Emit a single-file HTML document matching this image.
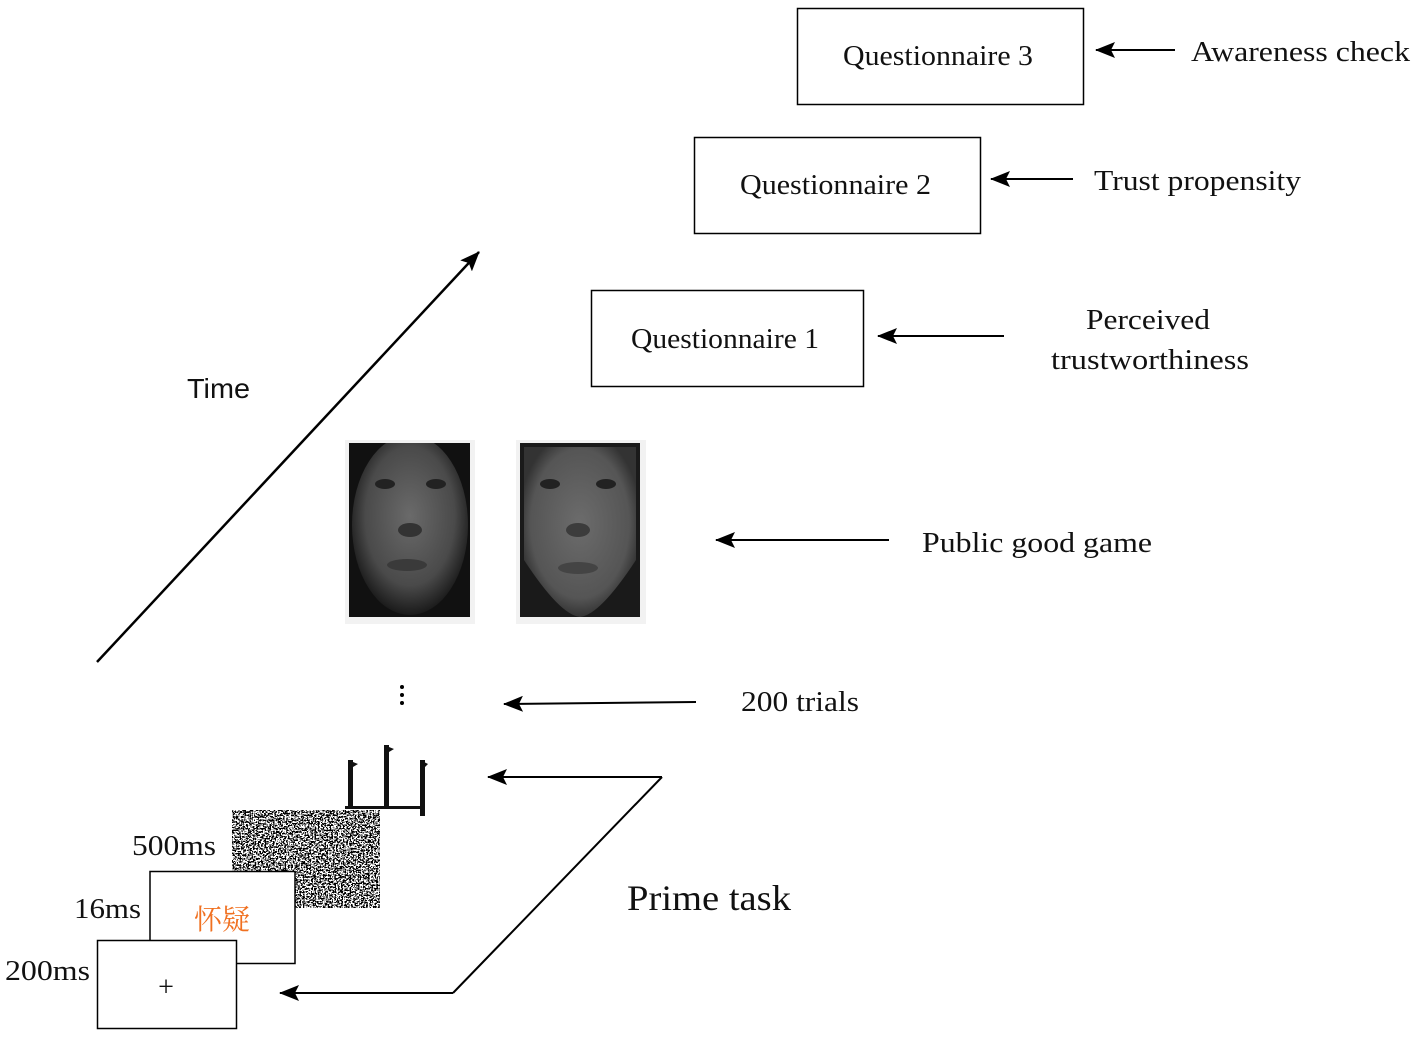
<!DOCTYPE html>
<html><head><meta charset="utf-8"><style>
body{margin:0;background:#fff}
svg text{font-family:"Liberation Serif","Noto Serif CJK SC",serif;fill:#111}
</style></head><body>
<svg width="1417" height="1036" viewBox="0 0 1417 1036" xmlns="http://www.w3.org/2000/svg">
<defs>
<marker id="ah2" markerWidth="20" markerHeight="16" refX="19" refY="8" orient="auto" markerUnits="userSpaceOnUse">
<path d="M20,8 L0,0 L4,8 L0,16 Z" fill="#000"/></marker>
<filter id="noise" x="0" y="0" width="100%" height="100%">
<feTurbulence type="fractalNoise" baseFrequency="0.6" numOctaves="2" seed="3"/>
<feColorMatrix type="saturate" values="0"/>
<feComponentTransfer><feFuncR type="discrete" tableValues="0 1"/><feFuncG type="discrete" tableValues="0 1"/><feFuncB type="discrete" tableValues="0 1"/><feFuncA type="linear" slope="0" intercept="1"/></feComponentTransfer>
</filter>
<radialGradient id="f1" cx="50%" cy="45%" r="55%"><stop offset="0" stop-color="#6a6a6a"/><stop offset="0.7" stop-color="#4a4a4a"/><stop offset="1" stop-color="#1a1a1a"/></radialGradient>
<radialGradient id="f2" cx="50%" cy="45%" r="55%"><stop offset="0" stop-color="#6c6c6c"/><stop offset="0.8" stop-color="#555"/><stop offset="1" stop-color="#333"/></radialGradient>
<clipPath id="c1"><rect x="349" y="443" width="121" height="174"/></clipPath>
</defs>

<rect x="797.5" y="8.5" width="286" height="96" fill="none" stroke="#000" stroke-width="1.5"/>
<text x="843" y="65" font-size="28" textLength="190" lengthAdjust="spacingAndGlyphs">Questionnaire 3</text>
<line x1="1175" y1="50" x2="1096" y2="50" stroke="#000" stroke-width="2" marker-end="url(#ah2)"/>
<text x="1191" y="61" font-size="29" textLength="219" lengthAdjust="spacingAndGlyphs">Awareness check</text>

<rect x="694.5" y="137.5" width="286" height="96" fill="none" stroke="#000" stroke-width="1.5"/>
<text x="740" y="194" font-size="28" textLength="191" lengthAdjust="spacingAndGlyphs">Questionnaire 2</text>
<line x1="1073" y1="179" x2="991" y2="179" stroke="#000" stroke-width="2" marker-end="url(#ah2)"/>
<text x="1094" y="190" font-size="29" textLength="207" lengthAdjust="spacingAndGlyphs">Trust propensity</text>

<rect x="591.5" y="290.5" width="272" height="96" fill="none" stroke="#000" stroke-width="1.5"/>
<text x="631" y="348" font-size="28" textLength="188" lengthAdjust="spacingAndGlyphs">Questionnaire 1</text>
<line x1="1004" y1="336" x2="878" y2="336" stroke="#000" stroke-width="2" marker-end="url(#ah2)"/>
<text x="1086" y="329" font-size="29" textLength="124" lengthAdjust="spacingAndGlyphs">Perceived</text>
<text x="1051" y="369" font-size="29" textLength="198" lengthAdjust="spacingAndGlyphs">trustworthiness</text>

<line x1="97" y1="662" x2="479" y2="252" stroke="#000" stroke-width="2.5" marker-end="url(#ah2)"/>
<text x="187" y="398" font-size="28" style="font-family:'Liberation Sans',sans-serif" textLength="63" lengthAdjust="spacingAndGlyphs">Time</text>

<rect x="345" y="440" width="130" height="184" fill="#f2f2f2"/>
<rect x="349" y="443" width="121" height="174" fill="#111"/>
<g clip-path="url(#c1)">
<ellipse cx="410" cy="525" rx="58" ry="90" fill="url(#f1)"/>
</g>
<ellipse cx="385" cy="484" rx="10" ry="5" fill="#222"/><ellipse cx="436" cy="484" rx="10" ry="5" fill="#222"/>
<ellipse cx="410" cy="530" rx="12" ry="7" fill="#333"/><ellipse cx="407" cy="565" rx="20" ry="6" fill="#3a3a3a"/>
<rect x="516" y="440" width="130" height="184" fill="#f2f2f2"/>
<rect x="520" y="443" width="120" height="174" fill="#1a1a1a"/>
<path d="M524,447 L636,447 L636,560 Q600,615 580,617 Q560,615 524,560 Z" fill="url(#f2)"/>
<ellipse cx="550" cy="484" rx="10" ry="5" fill="#222"/><ellipse cx="606" cy="484" rx="10" ry="5" fill="#222"/>
<ellipse cx="578" cy="530" rx="12" ry="7" fill="#3c3c3c"/><ellipse cx="578" cy="568" rx="20" ry="6" fill="#444"/>
<line x1="889" y1="540" x2="716" y2="540" stroke="#000" stroke-width="2" marker-end="url(#ah2)"/>
<text x="922" y="552" font-size="29" textLength="230" lengthAdjust="spacingAndGlyphs">Public good game</text>

<circle cx="402" cy="687" r="2" fill="#000"/><circle cx="402" cy="695" r="2" fill="#000"/><circle cx="402" cy="703" r="2" fill="#000"/>
<line x1="696" y1="702" x2="504" y2="704" stroke="#000" stroke-width="2" marker-end="url(#ah2)"/>
<text x="741" y="711" font-size="29" textLength="118" lengthAdjust="spacingAndGlyphs">200 trials</text>

<g fill="#111">
<rect x="348" y="760" width="5" height="48"/><path d="M348,760 L358,764 L353,767 Z"/>
<rect x="384" y="745" width="5" height="64"/><path d="M384,745 L394,749 L389,752 Z"/>
<rect x="420" y="760" width="5" height="56"/><path d="M420,760 L428,764 L425,767 Z"/>
<rect x="345" y="806" width="77" height="3"/>
</g>

<polyline points="662,777 453,993" fill="none" stroke="#000" stroke-width="2"/>
<line x1="662" y1="777" x2="488" y2="777" stroke="#000" stroke-width="2" marker-end="url(#ah2)"/>
<line x1="453" y1="993" x2="280" y2="993" stroke="#000" stroke-width="2" marker-end="url(#ah2)"/>
<text x="627" y="910" font-size="36" textLength="164" lengthAdjust="spacingAndGlyphs">Prime task</text>

<rect x="232" y="810" width="148" height="98" filter="url(#noise)"/>
<rect x="150" y="871.5" width="145" height="92" fill="#fff" stroke="#000" stroke-width="1.5"/>
<text x="222" y="929" font-size="28" style="fill:#f07020" text-anchor="middle">怀疑</text>
<rect x="97.5" y="940.5" width="139" height="88" fill="#fff" stroke="#000" stroke-width="1.5"/>
<text x="166" y="996" font-size="28" text-anchor="middle">+</text>
<text x="132" y="855" font-size="29" textLength="84" lengthAdjust="spacingAndGlyphs">500ms</text>
<text x="74" y="918" font-size="29" textLength="67" lengthAdjust="spacingAndGlyphs">16ms</text>
<text x="5" y="980" font-size="29" textLength="85" lengthAdjust="spacingAndGlyphs">200ms</text>
</svg>
</body></html>
